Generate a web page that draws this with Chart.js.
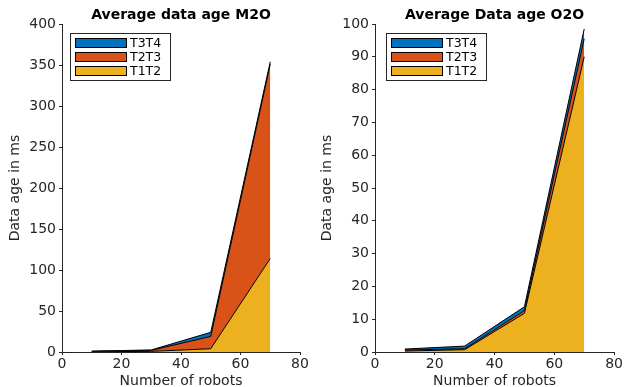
<!DOCTYPE html>
<html>
<head>
<meta charset="utf-8">
<script src="https://cdn.jsdelivr.net/npm/chart.js@4/dist/chart.umd.min.js"></script>
<style>
  body { margin: 0; background: #fff; }
  #wrap { position: relative; width: 624px; height: 387px; }
  .box { position: absolute; top: 0; width: 312px; height: 387px; }
</style>
</head>
<body>
<div id="wrap">
  <div class="box" style="left:0"><canvas id="m2o"></canvas></div>
  <div class="box" style="left:312px"><canvas id="o2o"></canvas></div>
</div>
<script>
// number of robots
const robots = [10, 30, 50, 70];

// M2O (values per stage, stacked)
const m2oT1T2 = [0.3, 0.8, 4, 114];
const m2oT2T3 = [0.5, 1.2, 15, 237];
const m2oT3T4 = [0.3, 0.5, 5, 3];

// O2O
const o2oT1T2 = [0.3, 0.7, 11.8, 90];
const o2oT2T3 = [0.3, 0.3, 0.8, 5.5];
const o2oT3T4 = [0.3, 0.8, 1.2, 3];

const seriesNames = ["T1T2", "T2T3", "T3T4"];
const seriesColors = ["#EDB120", "#D95319", "#0072BD"];

const FONT = "'DejaVu Sans', sans-serif";
Chart.defaults.font.family = FONT;
Chart.defaults.color = "#262626";

// title centred over the plot area + legend box inside the plot
const matlabBits = {
  id: "matlabBits",
  afterDraw(chart, args, opts) {
    const ctx = chart.ctx;
    const a = chart.chartArea;
    ctx.save();
    ctx.fillStyle = "#000";
    ctx.font = "bold 14px " + FONT;
    ctx.textAlign = "center";
    ctx.textBaseline = "middle";
    ctx.fillText(opts.title, (a.left + a.right) / 2, 15);

    // legend
    const bx = a.left + opts.lx, by = a.top + 9, bw = 100, bh = 47;
    ctx.fillStyle = "#fff";
    ctx.fillRect(bx, by, bw, bh);
    ctx.strokeStyle = "#262626";
    ctx.lineWidth = 1;
    ctx.strokeRect(bx + 0.5, by + 0.5, bw, bh);
    const ds = chart.data.datasets.slice().reverse();
    ds.forEach((d, i) => {
      const y = by + 5 + i * 14;
      ctx.fillStyle = d.backgroundColor;
      ctx.fillRect(bx + 5, y, 52, 10);
      ctx.strokeStyle = "#000";
      ctx.strokeRect(bx + 5.5, y + 0.5, 51, 9);
      ctx.fillStyle = "#000";
      ctx.font = "12.5px " + FONT;
      ctx.textAlign = "left";
      ctx.fillText(d.label, bx + 60, y + 5.5);
    });
    ctx.restore();
  }
};

function makeChart(id, stacks, yMax, yStep, title, yWidth, padRight, lx) {
  const datasets = stacks.map((vals, i) => ({
    label: seriesNames[i],
    data: robots.map((x, j) => ({ x: x, y: vals[j] })),
    backgroundColor: seriesColors[i],
    borderColor: "#000",
    borderWidth: 1,
    pointRadius: 0,
    tension: 0,
    fill: i === 0 ? "origin" : "-1"
  }));
  return new Chart(document.getElementById(id), {
    type: "line",
    data: { datasets },
    options: {
      responsive: true,
      maintainAspectRatio: false,
      animation: false,
      layout: { padding: { top: 24, right: padRight, left: 0, bottom: 0 } },
      plugins: {
        legend: { display: false },
        tooltip: { enabled: false },
        matlabBits: { title: title, lx: lx }
      },
      scales: {
        x: {
          type: "linear",
          min: 0, max: 80,
          ticks: { stepSize: 20, padding: 1, font: { size: 14 }, color: "#262626", maxRotation: 0 },
          grid: { drawOnChartArea: false, tickLength: 3, color: "#262626" },
          border: { color: "#262626" },
          title: { display: true, text: "Number of robots", font: { size: 14 }, color: "#262626", padding: { top: 0, bottom: -3 } },
          afterFit(s) { s.height = 35; }
        },
        y: {
          stacked: true,
          min: 0, max: yMax,
          ticks: { stepSize: yStep, padding: 3, font: { size: 14 }, color: "#262626" },
          grid: { drawOnChartArea: false, tickLength: 3, color: "#262626" },
          border: { color: "#262626" },
          title: { display: true, text: "Data age in ms", font: { size: 14 }, color: "#262626", padding: { top: 7, bottom: 0 } },
          afterFit(s) { s.width = yWidth; }
        }
      }
    },
    plugins: [matlabBits]
  });
}

makeChart("m2o", [m2oT1T2, m2oT2T3, m2oT3T4], 400, 50, "Average data age M2O", 62, 12, 8);
makeChart("o2o", [o2oT1T2, o2oT2T3, o2oT3T4], 100, 10, "Average Data age O2O", 63, 8, 11);
</script>
</body>
</html>
